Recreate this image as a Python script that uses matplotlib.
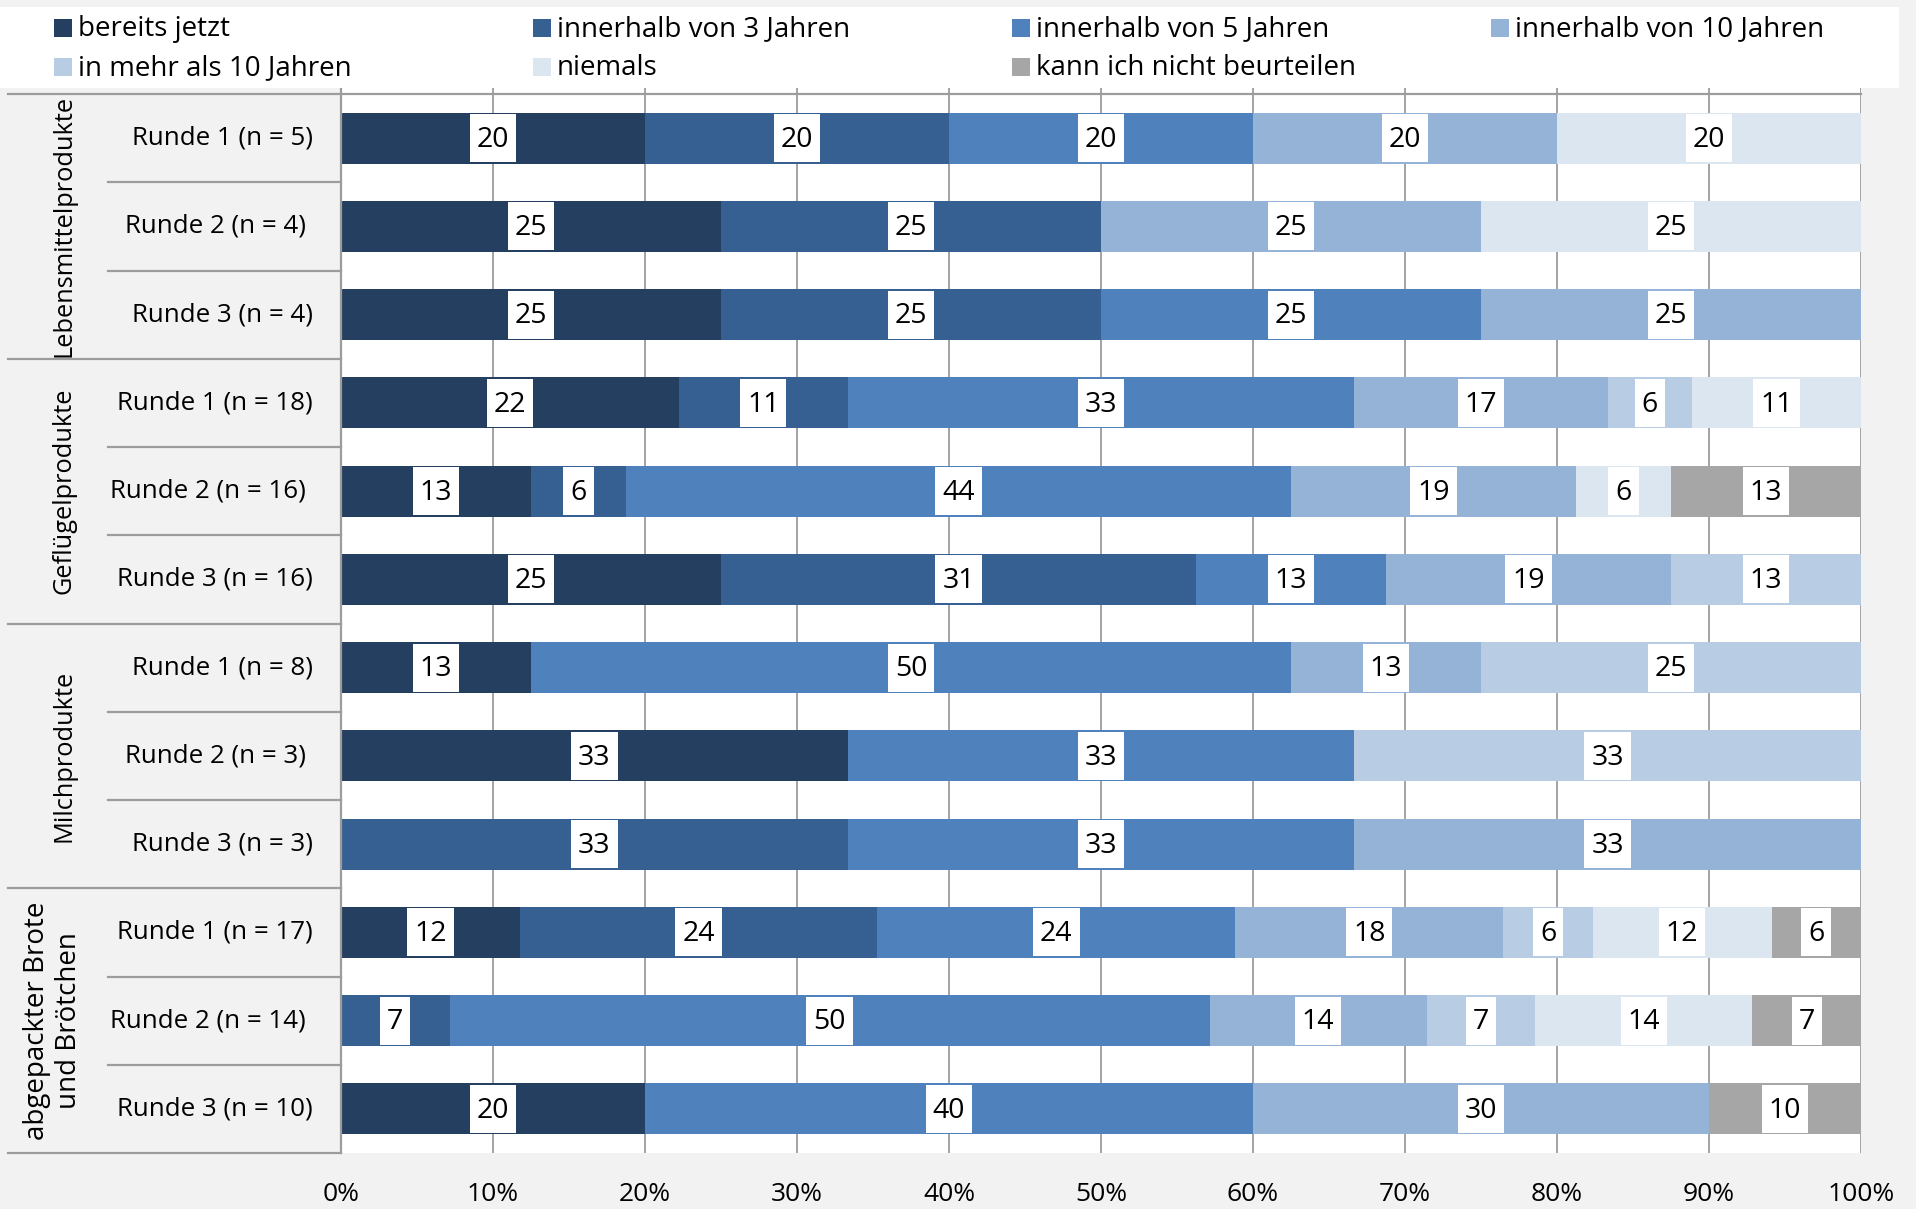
import matplotlib
matplotlib.use("Agg")
import matplotlib.pyplot as plt
from matplotlib.patches import Rectangle
import numpy as np

plt.rcParams['font.family'] = ['Open Sans', 'DejaVu Sans']

# ---------------- data ----------------
categories = ["bereits jetzt", "innerhalb von 3 Jahren", "innerhalb von 5 Jahren",
              "innerhalb von 10 Jahren", "in mehr als 10 Jahren", "niemals",
              "kann ich nicht beurteilen"]
colors = ["#243F60", "#366092", "#4F81BD", "#95B3D7", "#B8CCE4", "#DCE6F1", "#A6A6A6"]

groups = ["Lebensmittelprodukte", "Geflügelprodukte", "Milchprodukte",
          "abgepackter Brote\nund Brötchen"]
rounds = ["Runde 1", "Runde 2", "Runde 3"]
n_values = [5, 4, 4, 18, 16, 16, 8, 3, 3, 17, 14, 10]

# answer counts per row (top to bottom)
bereits_jetzt    = [1, 1, 1, 4, 2, 4, 1, 1, 0, 2, 0, 2]
innerhalb_3      = [1, 1, 1, 2, 1, 5, 0, 0, 1, 4, 1, 0]
innerhalb_5      = [1, 0, 1, 6, 7, 2, 4, 1, 1, 4, 7, 4]
innerhalb_10     = [1, 1, 1, 3, 3, 3, 1, 0, 1, 3, 2, 3]
mehr_als_10      = [0, 0, 0, 1, 0, 2, 2, 1, 0, 1, 1, 0]
niemals          = [1, 1, 0, 2, 1, 0, 0, 0, 0, 2, 2, 0]
nicht_beurteilen = [0, 0, 0, 0, 2, 0, 0, 0, 0, 1, 1, 1]

xticks = [0, 10, 20, 30, 40, 50, 60, 70, 80, 90, 100]
xticklabels = [f"{v}%" for v in xticks]

# ---------------- figure ----------------
W, H = 1916, 1209
fig = plt.figure(figsize=(W / 100, H / 100), dpi=100, facecolor="#F2F2F2")
ax_l, ax_r, ax_t, ax_b = 341, 1861, 88, 1153
ax = fig.add_axes([ax_l / W, 1 - ax_b / H, (ax_r - ax_l) / W, (ax_b - ax_t) / H])
ax.set_facecolor("white")

series = [bereits_jetzt, innerhalb_3, innerhalb_5, innerhalb_10,
          mehr_als_10, niemals, nicht_beurteilen]
n = np.array(n_values, dtype=float)
nrows = len(n_values)
ypos = np.arange(nrows)
row_px = (ax_b - ax_t - 6) / nrows
bar_h = 0.58

left = np.zeros(nrows)
label_items = []
for s, col in zip(series, colors):
    pct = np.array(s, dtype=float) / n * 100
    ax.barh(ypos, pct, left=left, height=bar_h, color=col, edgecolor="none", zorder=2)
    for i in range(nrows):
        if pct[i] > 0:
            label_items.append((left[i] + pct[i] / 2, ypos[i], str(int(pct[i] + 0.5))))
    left += pct

ax.set_xlim(0, 100)
ax.set_ylim(nrows - 0.5, -0.5 - 6 / row_px)
ax.set_xticks(xticks)
ax.set_xticklabels(xticklabels, fontsize=19)
ax.tick_params(axis='x', length=0, pad=21)
ax.set_yticks([])
ax.grid(axis='x', color='#9C9C9C', linewidth=1.3, zorder=0)
ax.set_axisbelow(True)
for sp in ax.spines.values():
    sp.set_visible(False)

# data labels
texts = []
for x, y, s in label_items:
    t = ax.text(x, y + 0.02, s, ha='center', va='center', fontsize=20.5, color='black', zorder=5)
    texts.append(t)
fig.canvas.draw()
renderer = fig.canvas.get_renderer()
px_to_x = 100 / (ax_r - ax_l)
for t in texts:
    bb = t.get_window_extent(renderer)
    w = (bb.width + 14) * px_to_x
    h = 48 / row_px
    x, y = t.get_position()
    ax.add_patch(Rectangle((x - w / 2, y - 0.02 - h / 2), w, h, facecolor='white',
                           edgecolor='none', zorder=4))

# category label area
tr = ax.get_yaxis_transform()
x_grp = (8 - ax_l) / (ax_r - ax_l)
x_sub = (108 - ax_l) / (ax_r - ax_l)
line_col = '#9C9C9C'
ax.plot([x_grp, 1], [-0.5, -0.5], transform=tr, color=line_col, lw=1.6, clip_on=False, zorder=3)
for i in range(nrows):
    b = i + 0.5
    x0 = x_grp if (i + 1) % 3 == 0 else x_sub
    ax.plot([x0, 0], [b, b], transform=tr, color=line_col, lw=1.6, clip_on=False, zorder=3)
ax.plot([0, 0], [-0.5 - 6 / row_px, nrows - 0.5], transform=tr, color=line_col,
        lw=1.6, clip_on=False, zorder=3)

round_right_px = [313, 306, 313]
for i in range(nrows):
    xr = (round_right_px[i % 3] - ax_l) / (ax_r - ax_l)
    ax.text(xr, i, f"{rounds[i % 3]} (n = {n_values[i]})", transform=tr,
            ha='right', va='center', fontsize=18.6, clip_on=False)
for g, name in enumerate(groups):
    two_lines = "\n" in name
    xpx = 53 if two_lines else 64
    ax.text((xpx - ax_l) / (ax_r - ax_l), g * 3 + 1, name, transform=tr, rotation=90,
            ha='center', va='center', multialignment='center',
            fontsize=20 if two_lines else 18.3,
            clip_on=False, linespacing=1.2)

# legend (white box, 4 columns x 2 rows, row-major)
fig.add_artist(Rectangle((0, 1 - 88 / H), 1899 / W, 81 / H, transform=fig.transFigure,
                         facecolor='white', edgecolor='none', zorder=1))
col_x = [54, 533, 1012, 1491]
row_y = [28, 67]
for k, (cat, col) in enumerate(zip(categories, colors)):
    r, c = divmod(k, 4)
    mx, my = col_x[c], row_y[r]
    fig.add_artist(Rectangle((mx / W, 1 - (my + 9) / H), 18 / W, 18 / H,
                             transform=fig.transFigure, facecolor=col,
                             edgecolor='none', zorder=2))
    fig.text((mx + 24) / W, 1 - (my + 1) / H, cat, ha='left', va='center',
             fontsize=20, zorder=3)

fig.savefig("out.png", dpi=100, facecolor=fig.get_facecolor())
